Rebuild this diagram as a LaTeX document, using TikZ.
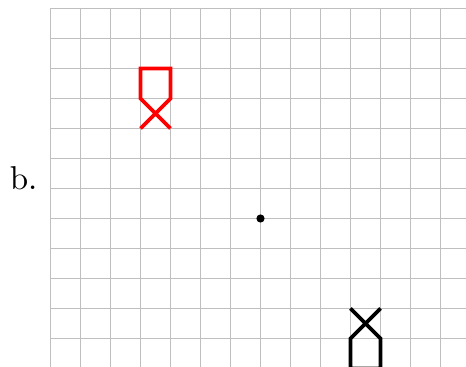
\documentclass[tikz,border=0pt]{standalone}
\begin{document}
\begin{tikzpicture}[x=0.335cm,y=0.335cm]
\useasboundingbox (-1.6833,0.05) rectangle (13.85,12.2833);
\clip (-1.6833,0.05) rectangle (13.85,12.2833);
\foreach \i in {0,...,14} \draw[gray!50,thin] (\i,-1)--(\i,12);
\foreach \j in {0,...,12} \draw[gray!50,thin] (0,\j)--(14,\j);
\fill (7,5) circle (1.3pt);
\draw[very thick,red] (3,8)--(4,9)--(4,10)--(3,10)--(3,9)--(4,8);
\draw[very thick] (11,2)--(10,1)--(10,0)--(11,0)--(11,1)--(10,2);
\node[left,scale=1.05] (lbl) at (-0.05,6.33) {b.};
\end{tikzpicture}
\end{document}
